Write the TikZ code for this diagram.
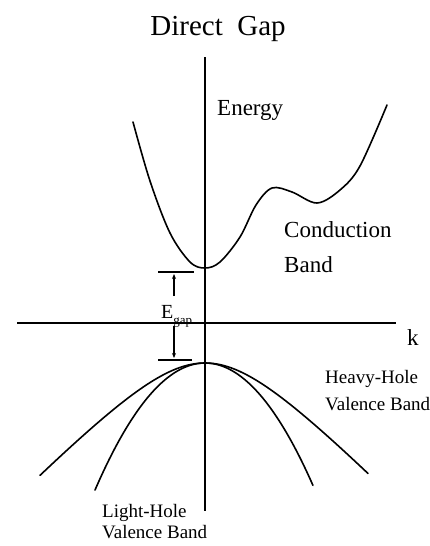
\documentclass[tikz,border=0pt]{standalone}
\usepackage{fontspec}
\setmainfont{Liberation Serif}
\usetikzlibrary{arrows.meta}
\begin{document}
\begin{tikzpicture}[x=1pt,y=-1pt,
  band/.style={line width=1.6pt, line join=round, line cap=round},
  axis/.style={line width=1.3pt},
  gapmark/.style={line width=1.3pt},
  lbl/.style={inner sep=0pt, anchor=base west},
  lbltxt/.style={font=\fontsize{19}{21}\selectfont},
  bigtxt/.style={font=\fontsize{23}{26}\selectfont}]
\useasboundingbox (0,0) rectangle (430,546);
% axes
\coordinate (ytop) at (205,57);
\coordinate (ybot) at (205,511);
\coordinate (xl) at (17,323);
\coordinate (xr) at (396,323);
\draw[axis] (ytop) -- (ybot);
\draw[axis] (xl) -- (xr);
% title and labels
\node[inner sep=0pt, anchor=base, font=\fontsize{29}{32}\selectfont] (title) at (218,35) {Direct\ \ Gap};
\node[lbl, bigtxt] (energy) at (217,115) {Energy};
\node[lbl, bigtxt] (k) at (407,345) {k};
\node[lbl, bigtxt] (cond) at (284,237) {Conduction};
\node[lbl, bigtxt] (condb) at (284,272) {Band};
\node[lbl, lbltxt] (hh) at (325,383) {Heavy-Hole};
\node[lbl, lbltxt] (hhb) at (325,410) {Valence Band};
\node[lbl, lbltxt] (lh) at (102,517) {Light-Hole};
\node[lbl, lbltxt] (lhb) at (102,538) {Valence Band};
% conduction band
\draw[band] plot[smooth, tension=0.55] coordinates {(133,122) (150,181) (170,233) (190,262) (205,268) (220,262) (240,237) (256,205) (272,188) (292,192) (317,203) (340,190) (360,166) (387,105)};
% valence bands
\draw[band] plot[domain=-1.65:1.63, samples=90] ({205+100*\x},{363+72*(sqrt(1+(\x/0.7)^2)-1)});
\draw[band] plot[domain=-1.10:1.08, samples=80] ({205+100*\x},{363+105*\x*\x});
% gap markers
\coordinate (bartopL) at (158,272);
\coordinate (bartopR) at (194,272);
\coordinate (barbotL) at (158,360);
\coordinate (barbotR) at (192,360);
\draw[gapmark] (bartopL) -- (bartopR);
\draw[gapmark] (barbotL) -- (barbotR);
\coordinate (a1s) at (174,296);
\coordinate (a1e) at (174,274);
\coordinate (a2s) at (174,326);
\coordinate (a2e) at (174,358);
\draw[gapmark,-{Stealth[length=5pt,width=4pt]}] (a1s) -- (a1e);
\draw[gapmark,-{Stealth[length=5pt,width=4pt]}] (a2s) -- (a2e);
\node[inner sep=0pt, anchor=base west, font=\fontsize{20}{22}\selectfont] (eg) at (161,318) {E\raisebox{-6pt}{\fontsize{13}{14}\selectfont gap}};
\end{tikzpicture}
\end{document}
